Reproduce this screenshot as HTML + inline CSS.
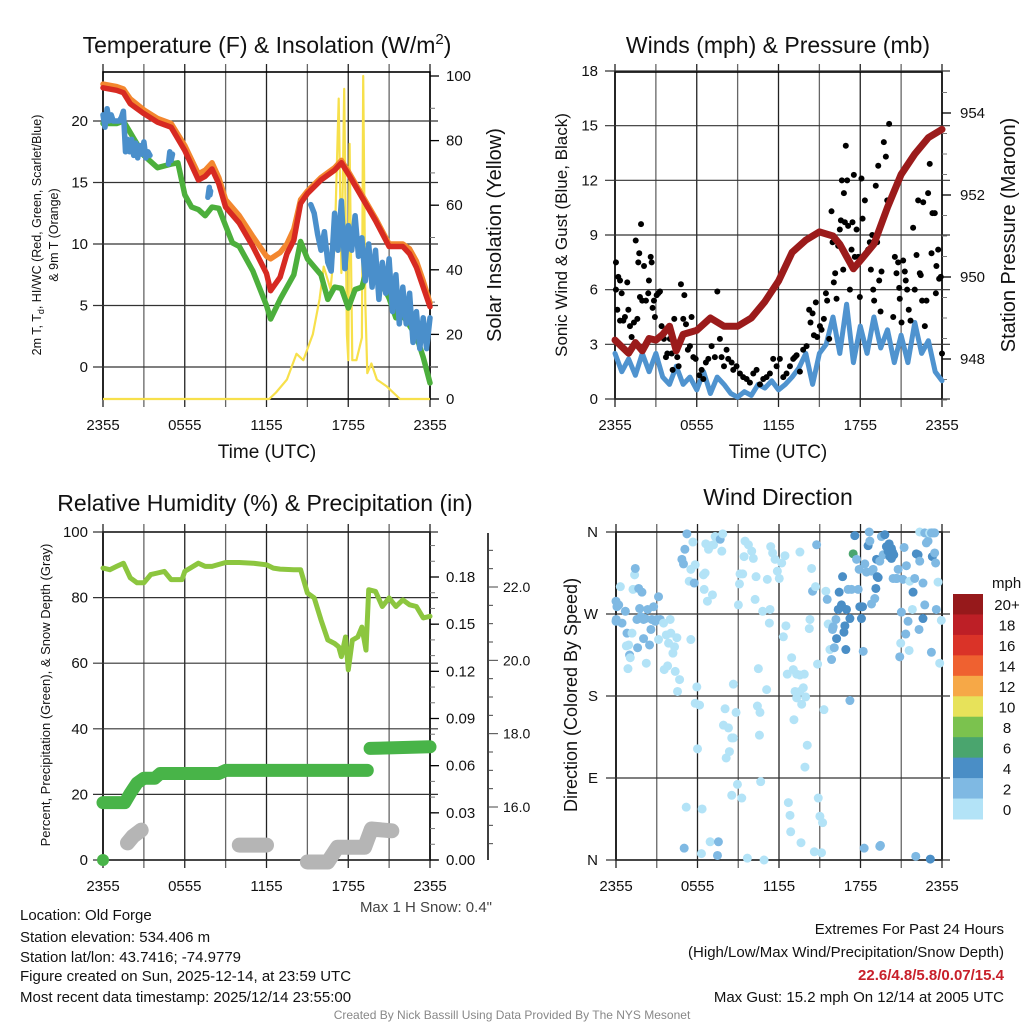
<!DOCTYPE html>
<html><head><meta charset="utf-8"><style>
html,body{margin:0;padding:0;background:#fff;}
svg{display:block;font-family:"Liberation Sans",sans-serif;}
</style></head><body>
<svg id="fig" width="1024" height="1024" viewBox="0 0 1024 1024"></svg>
<script>
// ---------- DATA ----------
const tickHours=[0,6,12,18,24];
const tickLabels=["2355","0555","1155","1755","2355"];
// Temperature panel
const tHours=[0,1,1.5,2,3,4,5,6,7,7.5,8,8.5,9,10,11,12,12.3,13,13.5,14,14.5,15,16,17,17.5,18,19,20,21,22,22.5,23,23.5,24];
const tempRed=[22.7,22.5,22.3,21.4,20.6,19.9,19.5,17.6,15.2,15.5,16.1,14.9,13.0,11.7,9.8,7.6,6.2,7.3,9.2,10.3,13.3,14.1,15.2,16.0,16.6,15.7,13.8,11.9,9.8,9.8,9.2,8.1,6.5,4.9];
const tempOrange=[23.0,22.8,22.6,21.8,20.9,20.2,19.8,18.0,15.7,16.0,16.6,15.4,13.6,12.3,10.6,9.0,8.8,9.3,10.0,11.2,13.6,14.3,15.4,16.2,16.8,15.9,14.0,12.1,10.0,10.0,9.6,8.6,7.0,5.2];
const dHours=[0,1,1.5,2.3,3,4,5,5.5,6,6.5,7,7.5,8,8.5,9,9.5,10,11,12,12.3,13,14,14.5,15,16,16.5,17,17.5,18,18.5,19,19.5,20,21,21.5,22,23,23.5,24];
const dewGreen=[19.8,19.8,20.0,18.5,17.2,16.2,16.5,16.6,14.0,13.0,12.8,12.3,13.0,12.9,11.5,10.1,9.8,7.8,5.0,3.9,5.5,7.5,10.2,8.8,7.5,5.5,6.5,6.4,4.8,6.3,6.5,8.5,7.8,5.6,4.0,4.2,2.5,0.8,-1.3];
const wcHours=[0,0.15,0.3,0.45,0.6,0.75,0.9,1.05,1.2,1.35,1.5,1.65,1.8,1.95,2.1,2.25,2.4,2.55,2.7,2.85,3.0,3.15,3.3,3.45,null,4.8,4.9,5.0,5.1,null,7.7,7.8,7.85,7.9,null,15.25,15.5,15.75,16,16.25,16.5,16.75,17,17.25,17.5,17.75,18,18.25,18.5,18.75,19,19.25,19.5,19.75,20,20.25,20.5,20.75,21,21.25,21.5,21.75,22,22.25,22.5,22.75,23,23.25,23.5,23.75,24];
const wcBlue=[20.5,19.5,21,20,20.5,20,20,20,20,20.3,20.8,17.5,18.5,17.5,18.5,17.2,18.2,17,18,17.3,18.3,17,17.5,17.2,null,16.5,17.5,16.8,17.3,null,13.8,14.6,14,14.3,null,13.2,12.5,10.8,9.5,11,8.5,7.8,12.5,9.5,13.5,8.0,11.5,9.5,12.3,9.0,10.5,7.0,10.0,6.5,9.5,5.5,8.5,6.0,8.8,4.5,7.5,3.5,6.5,3.5,6.0,2.0,4.5,1.5,4.0,1.5,4.0];
const solarHours=[0,12.2,12.7,13.5,14.2,14.7,15.4,15.9,16.2,16.7,17.0,17.3,17.5,17.7,17.9,18.0,18.1,18.3,18.6,19.0,19.1,19.25,19.4,19.7,20.1,20.8,21.8,24];
const solarVals=[0,0,2,6,14,12,20,31,41,34,47,93,39,96,20,12,79,12,12,19,100,30,8,11,6,4,0,0];
const tempTicks=[0,5,10,15,20];
const solarTicks=[0,20,40,60,80,100];
// Wind panel
const wHours=[0,0.5,1,1.5,2,2.5,3,3.5,4,4.5,5,5.5,6,6.5,7,7.5,8,8.5,9,9.5,10,10.5,11,11.5,12,12.5,13,13.5,14,14.5,15,15.5,16,16.5,17,17.5,18,18.5,19,19.5,20,20.5,21,21.5,22,22.5,23,23.5,24];
const windBlue=[2.5,1.5,2.2,1.3,2.5,1.5,2.5,1.2,0.8,1.8,0.8,1.2,0.5,1.5,0.3,1.2,0.8,0.3,0.1,0.4,0.2,0.8,0.6,1.0,0.5,0.8,1.2,1.7,2.5,0.8,2.5,3.0,4.5,2.5,5.2,2.0,4.0,2.5,4.5,2.8,3.8,2.0,3.5,2.0,4.2,2.5,3.2,1.5,1.0];
const pHours=[0,0.5,1,1.5,2,2.5,3,3.5,4,4.5,5,6,7,8,9,10,11,12,13,14,15,16,16.5,17,17.5,18,19,20,21,22,23,24];
const pressure=[948.46,948.3,948.14,948.4,948.2,948.5,948.46,948.6,948.8,948.2,948.6,948.7,949.0,948.8,948.8,949.0,949.4,949.9,950.6,950.9,951.1,951.0,950.8,950.5,950.2,950.4,950.8,951.7,952.5,953.0,953.4,953.6];
const gustHours=[0.07,0.07,0.17,0.24,0.37,0.49,0.37,0.61,0.73,0.9,0.98,1.1,1.22,1.39,1.52,1.64,1.71,1.78,1.91,1.83,2.0,2.13,2.27,2.44,2.49,2.62,2.69,2.76,2.86,2.93,3.06,3.18,3.3,3.42,3.59,3.74,3.84,4.03,4.16,4.23,4.35,4.47,4.57,4.67,4.84,5.01,5.09,5.21,5.35,5.5,5.62,5.75,5.92,6.19,6.36,6.48,6.67,6.85,7.09,7.33,7.51,7.7,7.82,8.0,8.19,8.31,8.56,8.68,8.92,9.17,9.41,9.66,9.9,10.15,10.39,10.64,10.88,11.12,11.37,11.61,11.86,12.1,12.35,12.59,12.84,13.08,13.2,13.33,13.57,13.81,14.06,14.25,14.35,14.5,14.6,14.74,14.84,15.04,15.16,15.33,15.48,15.57,15.72,15.89,15.97,16.06,16.16,16.26,16.38,16.5,16.58,16.65,16.75,16.8,16.87,16.94,17.04,17.11,17.24,17.36,17.43,17.53,17.6,17.73,17.85,17.97,18.09,18.17,18.34,18.58,18.7,18.78,18.88,18.95,19.02,19.14,19.24,19.32,19.39,19.49,19.56,19.73,19.88,19.98,20.12,20.17,20.29,20.42,20.54,20.66,20.78,20.86,20.9,21.03,21.15,21.27,21.34,21.44,21.56,21.69,21.88,22.0,22.13,22.25,22.37,22.44,22.54,22.62,22.74,22.86,22.98,23.1,23.23,23.3,23.47,23.55,23.59,23.72,23.79,23.91,24.0];
const gustVals=[6.0,7.5,4.9,6.7,6.5,5.8,4.3,4.3,4.5,6.4,4.9,4.0,3.4,4.2,8.7,4.4,7.5,8.0,9.6,5.6,5.4,7.3,5.4,5.8,6.5,7.8,7.5,5.0,5.4,4.5,5.7,5.8,5.9,4.0,3.3,2.3,2.5,3.3,2.5,1.6,4.4,3.1,2.3,1.8,6.3,4.4,5.7,4.1,2.7,2.9,4.5,2.3,2.2,1.3,1.6,1.1,2.0,2.2,2.9,2.3,5.9,3.3,2.3,1.8,2.7,2.2,2.0,1.6,1.8,1.4,1.2,1.1,0.9,1.4,1.6,0.8,1.1,1.2,1.4,2.2,1.8,2.2,1.2,1.4,1.8,2.2,2.3,2.4,1.5,2.7,2.9,4.9,4.2,4.7,3.5,5.3,3.4,4.0,3.8,4.4,5.8,5.4,3.3,10.3,8.6,6.4,6.9,5.5,8.4,9.3,9.8,12.0,7.1,11.3,9.7,13.9,12.0,9.5,6.0,8.2,9.7,12.3,7.8,9.3,7.8,5.6,12.1,9.9,10.9,8.2,8.6,7.1,9.0,6.0,5.4,11.7,8.6,12.8,6.5,4.8,7.0,14.1,13.3,10.9,15.1,10.8,11.1,4.5,7.8,6.9,7.5,6.1,5.5,4.2,7.6,7.0,6.5,6.0,4.9,4.3,9.4,6.0,7.9,10.9,6.9,6.8,5.4,10.8,4.0,5.4,11.3,12.9,8.0,10.2,10.2,5.8,7.3,8.2,6.6,6.7,2.5];
const windTicks=[0,3,6,9,12,15,18];
const presTicks=[948,950,952,954];
// RH / precip panel
const rhHours=[0,0.5,1,1.5,2,2.5,3,3.5,4,4.5,5,5.8,6,7,7.5,8,9,10,11,12,12.5,13,14,14.5,15,15.5,16,16.5,17,17.3,17.5,17.8,18,18.3,18.7,19,19.3,19.5,20,20.5,21,21.5,22,22.5,23,23.5,24];
const rhVals=[89,88.5,89.5,90.5,86,84.5,84.5,87,87.5,88,85.5,85.5,88,90.5,89.5,89.5,90.7,90.7,90.5,90,89,88.7,88.5,88.5,81.4,79.9,73.2,67.1,66,65,62,68,58,67,68,71,64,82.4,81.9,77.3,79.9,77.3,79.3,77.8,77.3,73.8,74.3];
const precipHours=[0,1.6,2,2.5,3,3.8,4.2,8.5,9,19.4,null,19.6,24];
const precipVals=[0.0365,0.0365,0.0425,0.049,0.052,0.052,0.055,0.055,0.057,0.057,null,0.071,0.072];
const snowHours=[1.8,2.2,2.8,null,10,12,null,15,16.5,17.2,19.2,19.7,21.2];
const snowVals=[15.02,15.2,15.37,null,14.96,14.96,null,14.5,14.5,14.9,14.9,15.4,15.35];
const rhTicks=[0,20,40,60,80,100];
const precipTicks=[0,0.03,0.06,0.09,0.12,0.15,0.18];
const precipTickLabels=["0.00","0.03","0.06","0.09","0.12","0.15","0.18"];
const snowTicks=[16,18,20,22];
const snowTickLabels=["16.0","18.0","20.0","22.0"];
// Wind direction panel
const dirHours=[0,0.07,0.2,0.32,0.02,0.44,0.69,0.81,0.93,1.0,1.18,1.25,1.37,1.42,1.54,1.59,1.67,1.74,1.84,1.91,2.03,2.03,2.16,2.23,2.33,2.47,2.57,2.64,2.77,2.89,3.01,3.13,3.13,3.26,3.5,3.7,3.87,3.99,4.04,4.19,4.31,4.36,4.48,4.53,4.68,3.55,3.8,0.76,0.88,1.05,0,
4.85,4.97,5.07,5.22,5.39,5.51,5.66,5.76,5.83,5.51,5.95,5.83,6.15,6.0,5.17,5.02,6.34,6.29,6.93,7.54,7.47,6.44,6.56,6.49,6.73,7.1,6.61,6.81,6.98,7.18,7.3,7.67,7.79,7.86,
8.03,7.91,8.28,8.52,8.64,8.11,8.35,8.64,8.84,9.01,9.09,9.13,9.33,8.94,8.52,9.26,9.43,9.5,9.75,9.99,10.11,10.31,10.24,10.48,10.41,10.6,10.56,10.8,11.09,11.14,11.29,11.34,11.39,11.53,11.71,11.88,12.02,12.2,12.44,12.32,12.51,12.61,12.93,13.05,13.3,13.54,13.86,13.18,13.3,13.54,13.79,13.96,13.67,13.1,14.08,13.91,12.69,12.81,12.86,13.54,14.4,10.65,9.67,10.9,13.62,14.6,15.13,14.89,15.01,15.21,
14.77,14.28,14.47,14.23,14.69,14.84,15.31,15.45,15.55,15.62,15.75,15.87,15.94,15.99,16.07,16.19,16.24,16.36,16.43,16.6,16.68,16.78,16.85,16.92,16.97,17.09,17.22,17.22,17.34,17.46,17.58,17.71,17.83,17.9,17.95,18.07,18.15,18.2,18.32,18.44,18.56,18.64,18.69,18.81,18.81,18.93,19.05,19.13,19.18,19.23,19.3,19.42,19.47,19.54,19.67,19.79,19.91,20.03,20.16,20.28,20.11,20.35,20.45,20.28,20.4,20.6,20.77,20.69,20.89,21.01,20.96,21.13,21.21,21.33,21.38,21.5,21.58,21.62,21.82,21.87,21.99,22.11,22.24,22.31,22.36,22.6,22.6,22.73,22.36,22.73,22.85,22.97,23.09,23.22,23.34,23.29,23.46,23.46,23.53,23.58,23.71,23.83,23.95,23.22,22.07,23.14,18.27,19.42];
const dirDeg=[284,278,280,300,264,260,273,249,236,225,249,297,313,320,264,233,298,276,267,294,264,243,265,216,275,236,253,264,278,262,264,289,242,264,260,247,238,264,249,227,234,207,244,185,198,209,213,235,210,222,262,
330,325,341,358,306,319,349,304,324,242,190,172,170,122,58,13,56,7,20,20,5,313,315,297,284,291,347,341,345,346,355,352,339,358,
166,148,145,134,134,112,119,193,162,280,303,314,314,83,71,68,333,350,346,339,331,311,286,210,169,162,137,273,187,308,260,275,344,337,330,317,309,326,334,245,257,204,222,209,204,203,204,185,178,185,189,179,171,154,126,102,63,49,31,338,320,86,2,0,19,9,8,68,48,41,
346,264,295,254,300,215,165,295,286,259,231,220,253,256,233,264,243,275,294,280,311,250,257,231,275,297,265,175,297,336,356,330,297,319,278,265,278,229,325,316,345,360,350,317,281,319,287,298,330,311,310,328,16,355,335,357,344,339,333,342,347,338,335,331,309,309,319,309,223,272,238,308,343,248,323,262,230,306,275,294,309,336,335,253,328,304,265,280,360,359,348,350,359,359,359,333,337,359,326,275,305,216,263,228,4,1,13,15];
const dirSpeed=[3,3,3,1,3,3,3,3,1,3,1,1,1,3,3,3,3,3,3,3,3,3,3,1,3,3,3,3,3,3,3,3,1,3,1,1,1,1,1,1,1,1,1,1,1,1,1,1,1,1,3,
3,3,3,3,1,1,1,3,1,1,1,1,1,1,1,3,1,1,1,3,3,1,1,1,1,1,1,1,1,1,1,3,1,1,
1,1,1,1,1,1,1,1,1,1,1,1,1,1,1,1,1,1,1,1,1,1,1,1,1,1,1,1,1,1,1,1,1,1,1,1,1,1,1,1,1,1,1,1,1,1,1,1,1,1,1,1,1,1,1,1,1,1,1,1,1,1,1,1,1,1,1,1,1,1,
3,1,3,1,1,1,1,1,3,1,1,3,3,3,3,3,5,5,5,5,5,5,5,5,5,3,5,3,3,7,5,3,3,3,5,5,5,3,3,3,5,3,3,3,3,3,3,5,5,5,5,3,3,3,3,5,5,5,5,5,5,5,5,5,3,3,3,3,3,3,1,3,3,3,3,3,1,1,1,5,3,5,5,3,3,3,5,3,1,3,3,3,1,3,3,5,3,3,3,3,1,1,1,3,3,5,3,3];
const cbLabels=["20+","18","16","14","12","10","8","6","4","2","0"];
const cbColors=["#96191b","#bd1f26","#da3328","#ef6130","#f6a847","#e7e25a","#7bc24e","#4aa56e","#4a8ec6","#7fb9e3","#b3e3f7"];

// ---------- helpers ----------
const NS="http://www.w3.org/2000/svg";
const svg=document.getElementById('fig');
function mk(tag,attrs,parent,text){const e=document.createElementNS(NS,tag);for(const k in attrs)e.setAttribute(k,attrs[k]);if(text!==undefined)e.textContent=text;(parent||svg).appendChild(e);return e;}
function lin(d0,d1,r0,r1){return v=>r0+(v-d0)/(d1-d0)*(r1-r0);}
function pathFrom(xs,ys,fx,fy){let d="",pen=false;for(let i=0;i<xs.length;i++){if(xs[i]===null||ys[i]===null){pen=false;continue;}d+=(pen?"L":"M")+fx(xs[i]).toFixed(1)+","+fy(ys[i]).toFixed(1);pen=true;}return d;}

const P1={x0:103,x1:430,y0:72,y1:399};
const P2={x0:615,x1:942,y0:72,y1:399};
const P3={x0:103,x1:430,y0:532,y1:860};
const P4={x0:616,x1:942,y0:532,y1:860};

function frame(P,name){
  const g=mk('g',{});
  
  
  for(let h=0;h<=24;h+=3){
    const x=lin(0,24,P.x0,P.x1)(h);
    const ln=mk('line',{x1:x,x2:x,y1:P.y0-8,y2:P.y1+8,stroke:(h%6===0)?'#222':'#666','stroke-width':1.3},g);
    
    
  }
  const ax=mk('rect',{x:P.x0,y:P.y0,width:P.x1-P.x0,height:P.y1-P.y0,fill:'none',stroke:'#000','stroke-width':1.6},g);
  
  
  for(let i=0;i<tickHours.length;i++){
    const x=lin(0,24,P.x0,P.x1)(tickHours[i]);
    const t=mk('text',{x:x,y:P.y1+31,'text-anchor':'middle','font-size':15,fill:'#111'},svg,tickLabels[i]);
    
    
  }
}
function hgrid(P,vals,fy,labels,labelX,name){
  for(let i=0;i<vals.length;i++){
    const y=fy(vals[i]);
    const l=mk('line',{x1:P.x0-10,x2:P.x1+8,y1:y,y2:y,stroke:'#333','stroke-width':1.2});
    
    
    const t=mk('text',{x:labelX,y:y+5,'text-anchor':'end','font-size':15,fill:'#111'},svg,labels[i]);
    
    
  }
}
function rightAxis(P,vals,fy,labels,lx,name,minorStep,d0,d1){
  if(minorStep){for(let v=d0;v<=d1+1e-9;v+=minorStep){const y=fy(v);if(y<P.y0-1||y>P.y1+1)continue;const m=mk('line',{x1:P.x1,x2:P.x1+5,y1:y,y2:y,stroke:'#777','stroke-width':1});}}
  for(let i=0;i<vals.length;i++){
    const y=fy(vals[i]);
    const m=mk('line',{x1:P.x1,x2:P.x1+9,y1:y,y2:y,stroke:'#000','stroke-width':1.3});
    
    
    const t=mk('text',{x:lx,y:y+5,'font-size':15,fill:'#111'},svg,labels[i]);
    
    
  }
}
function rotText(x,y,size,str,name){
  const t=mk('text',{x:0,y:0,transform:`translate(${x},${y}) rotate(-90)`,'text-anchor':'middle','font-size':size,fill:'#111'},svg,str);
  
  
  return t;
}
function title(x,y,str,name){
  const t=mk('text',{x:x,y:y,'text-anchor':'middle','font-size':23,fill:'#111'},svg,str);
  
  
  return t;
}
function series(xs,ys,fx,fy,color,w,name,cap){
  const p=mk('path',{d:pathFrom(xs,ys,fx,fy),fill:'none',stroke:color,'stroke-width':w,'stroke-linejoin':'round','stroke-linecap':cap||'round'});
  
  
  return p;
}

// ---------- Panel 1: temperature ----------
{
  const P=P1, fx=lin(0,24,P.x0,P.x1), fy=lin(0,20,367,121), fs=lin(0,100,399,76);
  frame(P,'temperature');
  hgrid(P,tempTicks,fy,tempTicks.map(String),88,'temperature-y');
  rightAxis(P,solarTicks,fs,solarTicks.map(String),446,'solar-y',10,0,100);
  series(solarHours,solarVals,fx,fs,'#f7e04b',2.2,'solar-insolation-line','butt');
  series(tHours,tempOrange,fx,fy,'#f3872f',5.5,'temp-9m-line');
  series(dHours,dewGreen,fx,fy,'#4caf3c',5.5,'dewpoint-line');
  series(wcHours,wcBlue,fx,fy,'#4a8fcb',5.5,'heat-index-windchill-line');
  series(tHours,tempRed,fx,fy,'#d72a22',5.5,'temp-2m-line');
  const t=title(267,53,'Temperature (F) & Insolation (W/m','temperature-title');
  const sup=mk('tspan',{dy:-9,'font-size':15},t,'2');
  
  
  const cl=mk('tspan',{dy:9},t,')');
  
  
  const xt=mk('text',{x:267,y:458,'text-anchor':'middle','font-size':19,fill:'#111'},svg,'Time (UTC)');
  
  
  const yl=mk('text',{x:0,y:0,transform:'translate(41,235) rotate(-90)','text-anchor':'middle','font-size':12.5,fill:'#111'},svg,'');
  
  
  yl.innerHTML='2m T, T<tspan font-size="9" dy="3">d</tspan><tspan dy="-3">, HI/WC (Red, Green, Scarlet/Blue)</tspan>';
  rotText(58,235,12.5,'& 9m T (Orange)','temperature-y-axis-title-line2');
  rotText(501,235,20,'Solar Insolation (Yellow)','solar-axis-title');
}
// ---------- Panel 2: winds ----------
{
  const P=P2, fx=lin(0,24,P.x0,P.x1), fy=lin(0,18,399,71), fp=lin(948,954,359,113);
  frame(P,'winds');
  hgrid(P,windTicks,fy,windTicks.map(String),598,'wind-y');
  rightAxis(P,presTicks,fp,presTicks.map(String),960,'pressure-y',0.5,947,954.5);
  series(wHours,windBlue,fx,fy,'#4f93cf',5,'sonic-wind-line');
  for(let i=0;i<gustHours.length;i++){
    const c=mk('circle',{cx:fx(gustHours[i]),cy:fy(gustVals[i]),r:3,fill:'#000'});
    
    
  }
  series(pHours,pressure,fx,fp,'#9b1b1b',7,'station-pressure-line');
  title(778,53,'Winds (mph) & Pressure (mb)','winds-title');
  const xt=mk('text',{x:778,y:458,'text-anchor':'middle','font-size':19,fill:'#111'},svg,'Time (UTC)');
  
  
  rotText(567,235,17,'Sonic Wind & Gust (Blue, Black)','wind-axis-title');
  rotText(1015,235,20,'Station Pressure (Maroon)','pressure-axis-title');
}
// ---------- Panel 3: RH ----------
{
  const P=P3, fx=lin(0,24,P.x0,P.x1), fy=lin(0,100,860,532), fpr=lin(0,0.18,860,577), fsn=lin(16,22,807,587);
  frame(P,'humidity');
  hgrid(P,rhTicks,fy,rhTicks.map(String),88,'humidity-y');
  rightAxis(P,precipTicks,fpr,precipTickLabels,446,'precip-y',0.01,0,0.2);
  const sa=mk('line',{x1:488,x2:488,y1:533,y2:860,stroke:'#000','stroke-width':1.5});
  
  
  for(let v=14.5;v<=23;v+=0.5){const y=fsn(v);if(y<533||y>860)continue;const m=mk('line',{x1:488,x2:(v%2===0)?498:493,y1:y,y2:y,stroke:'#444','stroke-width':1});}
  for(let i=0;i<snowTicks.length;i++){const t=mk('text',{x:503,y:fsn(snowTicks[i])+5,'font-size':14,fill:'#111'},svg,snowTickLabels[i]);}
  series(snowHours,snowVals,fx,fsn,'#b5b5b5',15,'snow-depth-line');
  series(precipHours,precipVals,fx,fpr,'#48b448',13,'precipitation-line');
  const d0=mk('circle',{cx:fx(0),cy:fpr(0),r:6,fill:'#48b448'});
  
  
  series(rhHours,rhVals,fx,fy,'#8cc63f',5,'relative-humidity-line');
  title(265,511,'Relative Humidity (%) & Precipitation (in)','humidity-title');
  rotText(50,695,13,'Percent, Precipitation (Green), & Snow Depth (Gray)','humidity-y-axis-title');
  const ms=mk('text',{x:492,y:912,'text-anchor':'end','font-size':15,fill:'#444'},svg,'Max 1 H Snow: 0.4"');
  
  
}
// ---------- Panel 4: wind direction ----------
{
  const P=P4, fx=lin(0,24,P.x0,P.x1), fy=lin(0,360,860,532);
  frame(P,'direction');
  const dl=["N","E","S","W","N"], dv=[0,90,180,270,360];
  hgrid(P,dv,fy,dl,598,'direction-y');
  function col(s){const idx=Math.min(10,Math.max(0,10-Math.floor(s/2)));return cbColors[idx];}
  for(let i=0;i<dirHours.length;i++){
    const c=mk('circle',{cx:fx(dirHours[i]),cy:fy(dirDeg[i]),r:4.5,fill:col(dirSpeed[i])});
    
    
  }
  title(778,505,'Wind Direction','direction-title');
  rotText(577,695,18,'Direction (Colored By Speed)','direction-axis-title');
  const u=mk('text',{x:992,y:588,'font-size':15,fill:'#111'},svg,'mph');
  
  
  const bh=(819-594)/cbColors.length;
  for(let i=0;i<cbColors.length;i++){
    const r=mk('rect',{x:953,y:594+i*bh,width:30,height:bh+0.5,fill:cbColors[i]});
    
    
    const t=mk('text',{x:1007,y:594+i*bh+bh/2+6,'text-anchor':'middle','font-size':15,fill:'#111'},svg,cbLabels[i]);
    
    
  }
}
// ---------- footer ----------
const leftLines=["Location: Old Forge","Station elevation: 534.406 m","Station lat/lon: 43.7416; -74.9779","Figure created on Sun, 2025-12-14, at 23:59 UTC","Most recent data timestamp: 2025/12/14 23:55:00"];
const leftY=[920,942,962,981,1002];
for(let i=0;i<leftLines.length;i++){
  const t=mk('text',{x:20,y:leftY[i],'font-size':15,fill:'#111'},svg,leftLines[i]);
  
  
}
const rl=[["Extremes For Past 24 Hours",934,'#111','normal'],["(High/Low/Max Wind/Precipitation/Snow Depth)",957,'#111','normal'],["22.6/4.8/5.8/0.07/15.4",980,'#c8202a','bold'],["Max Gust: 15.2 mph On 12/14 at 2005 UTC",1002,'#111','normal']];
for(const r of rl){
  const t=mk('text',{x:1004,y:r[1],'text-anchor':'end','font-size':15,fill:r[2],'font-weight':r[3]},svg,r[0]);
  
  
}
const cr=mk('text',{x:512,y:1019,'text-anchor':'middle','font-size':12,fill:'#888'},svg,'Created By Nick Bassill Using Data Provided By The NYS Mesonet');


</script>
</body></html>
